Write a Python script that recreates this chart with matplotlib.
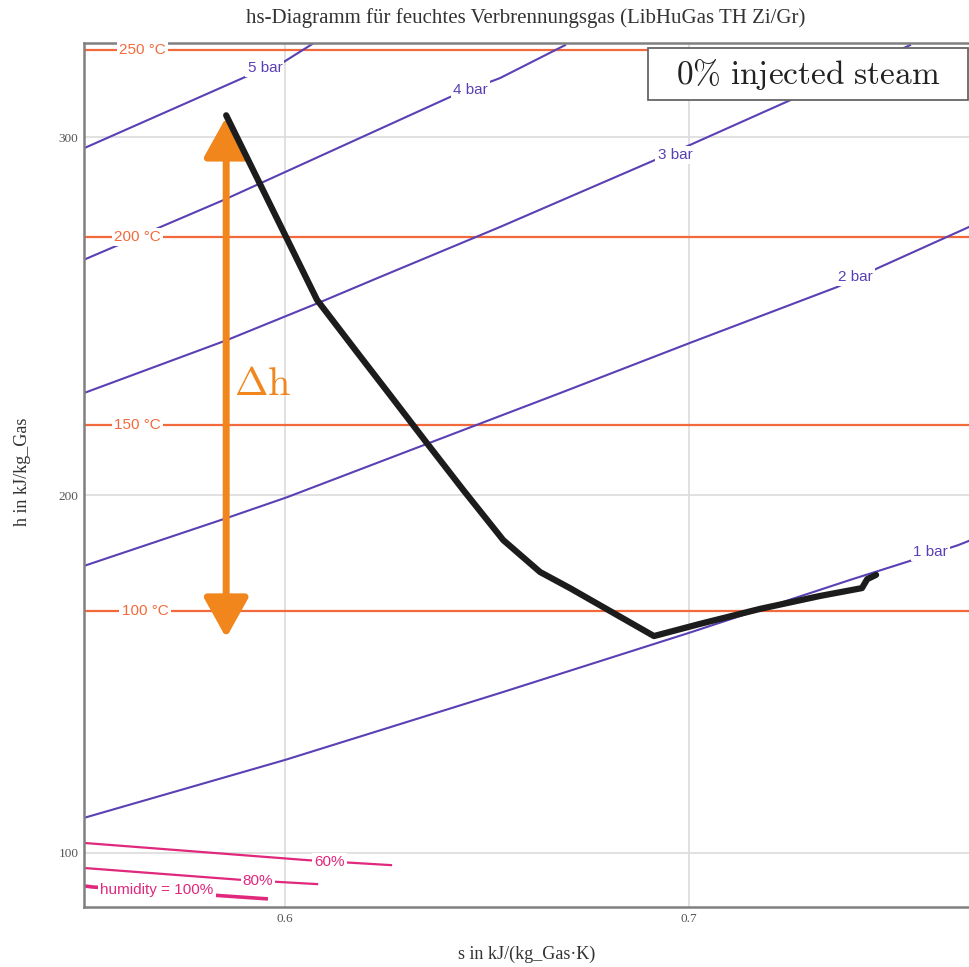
import numpy as np
import matplotlib.pyplot as plt
from matplotlib.patches import FancyArrowPatch, Rectangle

plt.rcParams['mathtext.fontset'] = 'cm'

# ---- data (s in kJ/(kg K), h in kJ/kg) ----
# process path
path_s = [0.5854, 0.6079, 0.6178, 0.6260, 0.6351, 0.6441, 0.6540, 0.6631,
          0.6705, 0.6913, 0.7027, 0.7176, 0.7324, 0.7428, 0.7441, 0.7463]
path_h = [306.1, 254.5, 239.9, 227.9, 214.5, 201.4, 187.4, 178.5,
          174.0, 160.6, 164.0, 168.2, 171.8, 174.0, 176.5, 177.7]

# isotherms
temp_labels = ['250 °C', '200 °C', '150 °C', '100 °C']
temp_h = [324.3, 272.1, 219.6, 167.6]
temp_label_s = [0.5646, 0.5634, 0.5634, 0.5653]

# isobars
bar_labels = ['5 bar', '4 bar', '3 bar', '2 bar', '1 bar']
bar_s = [
    [0.5502, 0.5901, 0.5995, 0.6067],
    [0.5505, 0.5847, 0.6408, 0.6532, 0.6693],
    [0.5502, 0.5856, 0.6087, 0.6228, 0.6532, 0.6903, 0.7002, 0.7250, 0.7547],
    [0.5502, 0.5856, 0.6005, 0.6681, 0.7002, 0.7366, 0.7473, 0.7693],
    [0.5502, 0.6000, 0.6532, 0.7000, 0.7399, 0.7547, 0.7666, 0.7693],
]
bar_h = [
    [296.9, 316.8, 320.9, 326.0],
    [265.9, 282.4, 311.2, 316.5, 325.7],
    [228.5, 243.3, 253.9, 260.6, 274.9, 293.0, 297.8, 310.3, 325.7],
    [180.2, 193.6, 199.4, 228.5, 242.5, 258.1, 263.7, 274.9],
    [109.8, 126.0, 144.7, 161.5, 176.3, 181.6, 186.0, 187.2],
]
bar_label_pos = [(0.5950, 319.3), (0.6458, 313.1), (0.6965, 295.0),
                 (0.7411, 260.9), (0.7597, 184.1)]

# humidity lines
hum_labels = ['60%', '80%', 'humidity = 100%']
hum_s = [[0.5502, 0.6054, 0.6262], [0.5502, 0.5889, 0.6079], [0.5502, 0.5522, 0.5953]]
hum_h = [[102.8, 98.0, 96.6], [95.8, 92.5, 91.3], [90.8, 90.5, 87.2]]
hum_label_pos = [(0.6109, 97.5), (0.5933, 92.2), (0.5683, 89.7)]
hum_lw = [1.6, 1.6, 2.6]

dh_top, dh_bottom = 305.6, 160.1

c_temp = '#f26a3c'
c_bar = '#5a40b4'
c_hum = '#e0287c'
c_arrow = '#f0861c'

fig = plt.figure(figsize=(9.69, 9.67), dpi=100)
ax = fig.add_axes([84/969, 60/967, 885/969, 864/967])
ax.set_xlim(0.5502, 0.7693)
ax.set_ylim(84.9, 326.3)

ax.set_xticks([0.6, 0.7])
ax.set_yticks([100, 200, 300])
ax.grid(color='#dcdcdc', lw=1.2)
ax.set_axisbelow(True)
ax.tick_params(length=0, labelsize=9.5, colors='#555', pad=4)
for lab in ax.get_xticklabels() + ax.get_yticklabels():
    lab.set_family('Liberation Serif')
for side in ['left', 'bottom', 'top']:
    ax.spines[side].set_color('#808080')
    ax.spines[side].set_linewidth(1.8)
ax.spines['right'].set_visible(False)

lbl_font = dict(family='Liberation Sans', fontsize=11)

for lab, h, s in zip(temp_labels, temp_h, temp_label_s):
    ax.axhline(h, color=c_temp, lw=1.6, zorder=2)
    ax.text(s, h, lab, color=c_temp, ha='center', va='center', zorder=3,
            bbox=dict(fc='white', ec='none', pad=1.5), **lbl_font)

for lab, s, h, pos in zip(bar_labels, bar_s, bar_h, bar_label_pos):
    ax.plot(s, h, color=c_bar, lw=1.5, zorder=2)
    ax.text(pos[0], pos[1], lab, color=c_bar, ha='center', va='center', zorder=3,
            bbox=dict(fc='white', ec='none', pad=1.5), **lbl_font)

for lab, s, h, pos, lw in zip(hum_labels, hum_s, hum_h, hum_label_pos, hum_lw):
    ax.plot(s, h, color=c_hum, lw=lw, zorder=2)
    ax.text(pos[0], pos[1], lab, color=c_hum, ha='center', va='center', zorder=3,
            bbox=dict(fc='white', ec='none', pad=1.5), **lbl_font)

ax.plot(path_s, path_h, color='#1c1c1c', lw=4.5, solid_joinstyle='round',
        solid_capstyle='round', zorder=5)

arr = FancyArrowPatch((path_s[0], dh_bottom), (path_s[0], dh_top),
                      arrowstyle='<|-|>,head_length=1.22,head_width=0.68',
                      mutation_scale=20, color=c_arrow, lw=5,
                      shrinkA=0, shrinkB=0, zorder=4)
ax.add_patch(arr)
ax.text(0.5874, 227.9, r'$\Delta\mathrm{h}$', color=c_arrow, fontsize=29,
        ha='left', va='baseline', zorder=4)

# annotation box, top right
ax.add_patch(Rectangle((0.6373, 0.934), 0.3616, 0.0602, transform=ax.transAxes,
                       fc='white', ec='#666', lw=1.3, zorder=6, clip_on=False))
ax.text(0.818, 0.9635, r'$\mathrm{0\%\ injected\ steam}$', fontsize=24,
        ha='center', va='center', color='#222', zorder=7, transform=ax.transAxes)

fig.text(526/969, 1 - 18/967, 'hs-Diagramm für feuchtes Verbrennungsgas (LibHuGas TH Zi/Gr)',
         ha='center', va='center', fontsize=15, family='Liberation Serif', color='#333')
ax.set_xlabel('s in kJ/(kg_Gas·K)', fontsize=13, family='Liberation Serif', color='#333')
ax.xaxis.set_label_coords(527/885 - 84/885, -(946 - 907)/864)
ax.set_ylabel('h in kJ/kg_Gas', fontsize=13, family='Liberation Serif', color='#333')
ax.yaxis.set_label_coords(-(84 - 31)/885, 0.5 + (475 - 472)/864)

fig.savefig('out.png', dpi=100)
